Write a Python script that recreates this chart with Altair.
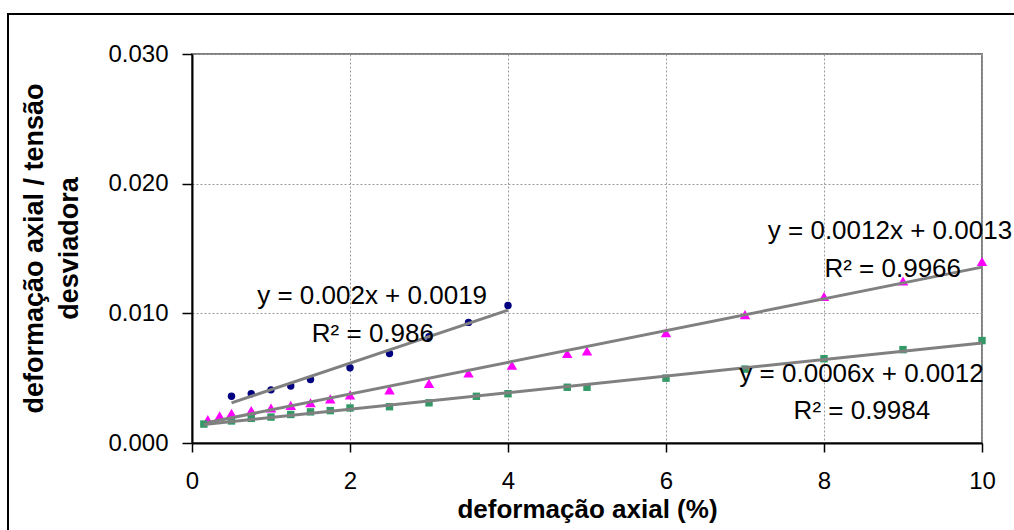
import altair as alt
import pandas as pd

# ---- data ----
s1_x = [0.5, 0.75, 1.0, 1.25, 1.5, 2.0, 2.5, 3.0, 3.5, 4.0]
s1_y = [0.0036, 0.0038, 0.0041, 0.0044, 0.0049, 0.0058, 0.0069, 0.0082, 0.0093, 0.0106]

s2_x = [0.2, 0.35, 0.5, 0.75, 1.0, 1.25, 1.5, 1.75, 2.0, 2.5, 3.0, 3.5, 4.05, 4.75, 5.0, 6.0, 7.0, 8.0, 9.0, 10.0]
s2_y = [0.0018, 0.0021, 0.0023, 0.0025, 0.0027, 0.0029, 0.0031, 0.0034, 0.0037, 0.0041,
        0.0046, 0.0054, 0.0060, 0.0069, 0.0071, 0.0085, 0.0099, 0.0113, 0.0125, 0.0140]

s3_x = [0.15, 0.5, 0.75, 1.0, 1.25, 1.5, 1.75, 2.0, 2.5, 3.0, 3.6, 4.0, 4.75, 5.0, 6.0, 7.0, 8.0, 9.0, 10.0]
s3_y = [0.00146, 0.0017, 0.0019, 0.0020, 0.0022, 0.0024, 0.0025, 0.0027, 0.0028, 0.0031,
        0.0036, 0.0038, 0.0043, 0.0043, 0.0050, 0.0057, 0.0065, 0.0072, 0.0079]

series_names = ["série 1", "série 2", "série 3"]
series_colors = ["#000080", "#FF00FF", "#339966"]
series_shapes = ["circle", "triangle-up", "square"]
series_sizes = [55, 110, 55]

eq_text = ["y = 0.002x + 0.0019", "R² = 0.986",
           "y = 0.0012x + 0.0013", "R² = 0.9966",
           "y = 0.0006x + 0.0012", "R² = 0.9984"]
eq_x = [2.28, 2.29, 8.835, 8.87, 8.475, 8.48]
eq_y = [0.01072, 0.00781, 0.01571, 0.01283, 0.00473, 0.00185]

x_ticks = [0, 2, 4, 6, 8, 10]
y_ticks = [0.0, 0.01, 0.02, 0.03]

frames = []
for name, xs, ys in zip(series_names, [s1_x, s2_x, s3_x], [s1_y, s2_y, s3_y]):
    frames.append(pd.DataFrame({"series": name, "x": xs, "y": ys}))
points = pd.concat(frames, ignore_index=True)
labels = pd.DataFrame({"t": eq_text, "x": eq_x, "y": eq_y})

FONT = "Liberation Sans"

xenc = alt.X("x:Q", scale=alt.Scale(domain=[0, 10], nice=False, zero=False),
             axis=alt.Axis(values=x_ticks, format="d", title="deformação axial (%)",
                           titleX=395, titleY=74, titleBaseline="alphabetic",
                           titleFontSize=26, labelPadding=17, tickSize=9,
                           labelFlush=False))
yenc = alt.Y("y:Q", scale=alt.Scale(domain=[0, 0.03], nice=False),
             axis=alt.Axis(values=y_ticks, format=".3f",
                           title=["deformação axial / tensão", "desviadora"],
                           titleAngle=-90, titleX=-150, titleY=194,
                           titleBaseline="alphabetic", titleAlign="center",
                           titleLineHeight=35, titleFontSize=27,
                           labelPadding=14, tickSize=10))

frame = alt.Chart(pd.DataFrame({"k": [0]})).mark_rect(
    filled=False, stroke="black", strokeWidth=2
).encode(x=alt.value(-184), x2=alt.value(900), y=alt.value(-40), y2=alt.value(600))

layers = [frame]
for df, col, shp, sz in zip(frames, series_colors, series_shapes, series_sizes):
    layers.append(
        alt.Chart(df).mark_point(filled=True, opacity=1, color=col, shape=shp, size=sz)
        .encode(x=xenc, y=yenc)
    )

trend = alt.Chart(points).transform_regression(
    "x", "y", groupby=["series"]
).mark_line(color="#808080", strokeWidth=3).encode(
    x="x:Q", y="y:Q", detail="series:N"
)

txt = alt.Chart(labels).mark_text(
    font=FONT, fontSize=26, color="black", align="center", baseline="alphabetic"
).encode(x="x:Q", y="y:Q", text="t:N")

layers += [trend, txt]

chart = alt.layer(*layers).properties(
    width=790, height=389,
    autosize=alt.AutoSizeParams(type="none"),
    padding={"left": 192, "top": 54, "right": 32, "bottom": 87},
    background="white",
).configure_view(
    stroke="#808080", strokeWidth=2
).configure_axis(
    labelFont=FONT, labelFontSize=24, labelColor="black",
    titleFont=FONT, titleFontWeight="bold", titleColor="black",
    domainColor="black", domainWidth=2, tickColor="black", tickWidth=1.5,
    grid=True, gridColor="#999999", gridDash=[2, 2], gridWidth=1,
    labelOverlap=False,
)

chart.save("out.html", embed_options={"renderer": "svg", "actions": False})
